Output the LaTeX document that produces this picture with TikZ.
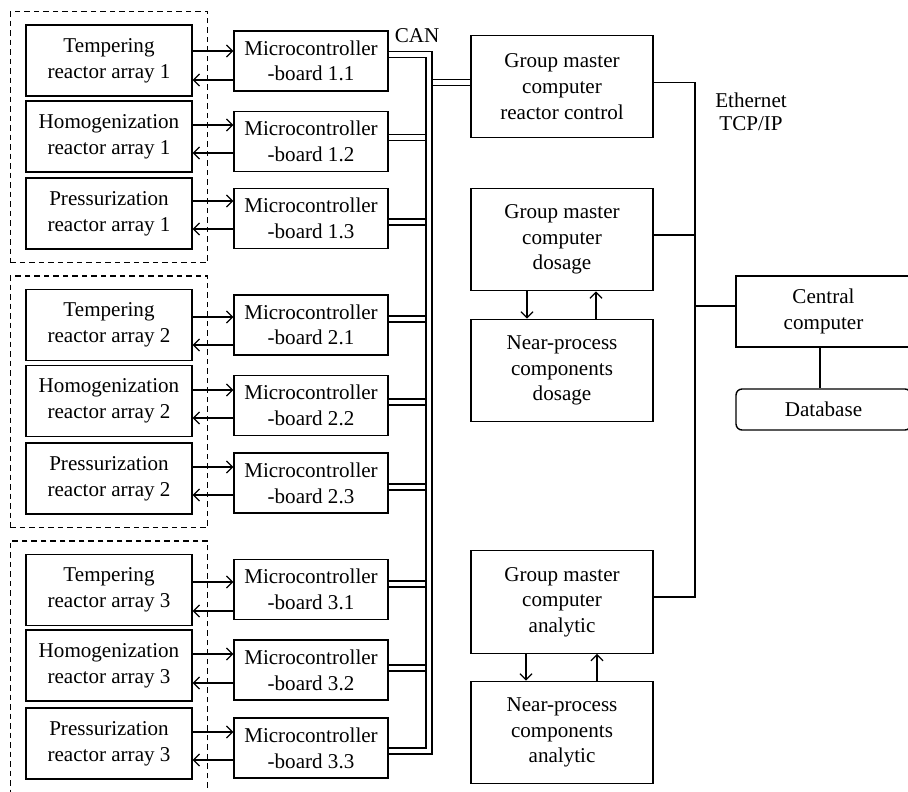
\documentclass[tikz,border=0pt]{standalone}
\usepackage{fontspec}
\setmainfont{Liberation Serif}
\usetikzlibrary{arrows.meta,fit}

\begin{document}
\begin{tikzpicture}[
  x=0.02cm, y=-0.02cm,
  txt/.style={font=\fontsize{12}{14.6}\selectfont, align=center, inner sep=0pt},
  reactor/.style={draw, line width=0.8pt, txt, minimum width=3.32cm, minimum height=1.42cm},
  mcboard/.style={draw, line width=0.8pt, txt, minimum width=3.08cm, minimum height=1.2cm},
  master/.style={draw, line width=0.8pt, txt, minimum width=3.64cm, minimum height=2.05cm},
  central/.style={draw, line width=0.8pt, txt, minimum width=3.5cm, minimum height=1.42cm},
  dbase/.style={draw, line width=0.8pt, txt, rounded corners=0.12cm, minimum width=3.5cm, minimum height=0.82cm},
  grpbox/.style={draw, line width=0.9pt, dash pattern=on 0.11cm off 0.08cm, inner xsep=0.3cm, inner ysep=0.26cm},
  sig/.style={line width=0.7pt, -{Straight Barb[length=1.2mm,width=2.4mm]}},
  bus/.style={line width=0.75pt, double, double distance=2.6pt},
  eth/.style={line width=0.8pt}
]
\clip (0,0) rectangle (908,791);

\node[reactor] (tr1) at (109,60.5) {Tempering\\reactor array 1};
\node[reactor] (hr1) at (109,136.5) {Homogenization\\reactor array 1};
\node[reactor] (pr1) at (109,213.5) {Pressurization\\reactor array 1};
\node[reactor] (tr2) at (109,325) {Tempering\\reactor array 2};
\node[reactor] (hr2) at (109,401) {Homogenization\\reactor array 2};
\node[reactor] (pr2) at (109,478.5) {Pressurization\\reactor array 2};
\node[reactor] (tr3) at (109,590) {Tempering\\reactor array 3};
\node[reactor] (hr3) at (109,665.5) {Homogenization\\reactor array 3};
\node[reactor] (pr3) at (109,743.5) {Pressurization\\reactor array 3};
\coordinate (grp3end) at (109,815);
\node[grpbox, fit=(tr1)(pr1)] (grp1) {};
\node[grpbox, fit=(tr2)(pr2)] (grp2) {};
\node[grpbox, fit=(tr3)(grp3end)] (grp3) {};

\node[mcboard] (mc11) at (311,61) {Microcontroller\\-board 1.1};
\node[mcboard] (mc12) at (311,141.5) {Microcontroller\\-board 1.2};
\node[mcboard] (mc13) at (311,218.5) {Microcontroller\\-board 1.3};
\node[mcboard] (mc21) at (311,325) {Microcontroller\\-board 2.1};
\node[mcboard] (mc22) at (311,405.5) {Microcontroller\\-board 2.2};
\node[mcboard] (mc23) at (311,483) {Microcontroller\\-board 2.3};
\node[mcboard] (mc31) at (311,589.5) {Microcontroller\\-board 3.1};
\node[mcboard] (mc32) at (311,670) {Microcontroller\\-board 3.2};
\node[mcboard] (mc33) at (311,748) {Microcontroller\\-board 3.3};

\node[master] (gmrc) at (562,86.5) {Group master\\computer\\reactor control};
\node[master] (gmdo) at (562,239.5) {Group master\\computer\\dosage};
\node[master] (npdo) at (562,370.5) {Near-process\\components\\dosage};
\node[master] (gman) at (562,602) {Group master\\computer\\analytic};
\node[master] (npan) at (562,732.5) {Near-process\\components\\analytic};
\node[central] (cc) at (823.5,311.5) {Central\\computer};
\node[dbase] (db) at (823.5,409.5) {Database};

\node[txt] (canlbl) at (417,36) {CAN};
\node[txt, font=\fontsize{12}{13}\selectfont] (ethlbl) at (751,112) {Ethernet\\TCP/IP};

\draw[sig] (tr1.east |- 0,51) -- (mc11.west |- 0,51);
\draw[sig] (mc11.west |- 0,80) -- (tr1.east |- 0,80);
\draw[sig] (hr1.east |- 0,125) -- (mc12.west |- 0,125);
\draw[sig] (mc12.west |- 0,153) -- (hr1.east |- 0,153);
\draw[sig] (pr1.east |- 0,201) -- (mc13.west |- 0,201);
\draw[sig] (mc13.west |- 0,229) -- (pr1.east |- 0,229);
\draw[sig] (tr2.east |- 0,317) -- (mc21.west |- 0,317);
\draw[sig] (mc21.west |- 0,345) -- (tr2.east |- 0,345);
\draw[sig] (hr2.east |- 0,390) -- (mc22.west |- 0,390);
\draw[sig] (mc22.west |- 0,418) -- (hr2.east |- 0,418);
\draw[sig] (pr2.east |- 0,467) -- (mc23.west |- 0,467);
\draw[sig] (mc23.west |- 0,495) -- (pr2.east |- 0,495);
\draw[sig] (tr3.east |- 0,582) -- (mc31.west |- 0,582);
\draw[sig] (mc31.west |- 0,611) -- (tr3.east |- 0,611);
\draw[sig] (hr3.east |- 0,654) -- (mc32.west |- 0,654);
\draw[sig] (mc32.west |- 0,683) -- (hr3.east |- 0,683);
\draw[sig] (pr3.east |- 0,732) -- (mc33.west |- 0,732);
\draw[sig] (mc33.west |- 0,760) -- (pr3.east |- 0,760);

\coordinate (bustop) at (429,54.5);
\coordinate (busbot) at (429,751);
\draw[bus] (mc12.east |- 0,137.5) -- (bustop |- 0,137.5);
\draw[bus] (mc13.east |- 0,222) -- (bustop |- 0,222);
\draw[bus] (mc21.east |- 0,319) -- (bustop |- 0,319);
\draw[bus] (mc22.east |- 0,402) -- (bustop |- 0,402);
\draw[bus] (mc23.east |- 0,487) -- (bustop |- 0,487);
\draw[bus] (mc31.east |- 0,584) -- (bustop |- 0,584);
\draw[bus] (mc32.east |- 0,668) -- (bustop |- 0,668);
\draw[bus] (bustop |- 0,82.5) -- (gmrc.west |- 0,82.5);
\draw[bus] (mc11.east |- bustop) -- (bustop) -- (busbot) -- (mc33.east |- busbot);

\draw[sig] ([xshift=-0.7cm]gmdo.south) -- ([xshift=-0.7cm]npdo.north);
\draw[sig] ([xshift=0.68cm]npdo.north) -- ([xshift=0.68cm]gmdo.south);
\draw[sig] ([xshift=-0.72cm]gman.south) -- ([xshift=-0.72cm]npan.north);
\draw[sig] ([xshift=0.7cm]npan.north) -- ([xshift=0.7cm]gman.south);

\coordinate (ethtop) at (695,82.5);
\coordinate (ethbot) at (695,597);
\draw[eth] (gmrc.east |- ethtop) -- (ethtop) -- (ethbot) -- (gman.east |- ethbot);
\draw[eth] (gmdo.east |- 0,235) -- (ethtop |- 0,235);
\draw[eth] (ethtop |- 0,306) -- (cc.west |- 0,306);
\draw[eth] (cc.south -| 820,0) -- (db.north -| 820,0);

\end{tikzpicture}
\end{document}
